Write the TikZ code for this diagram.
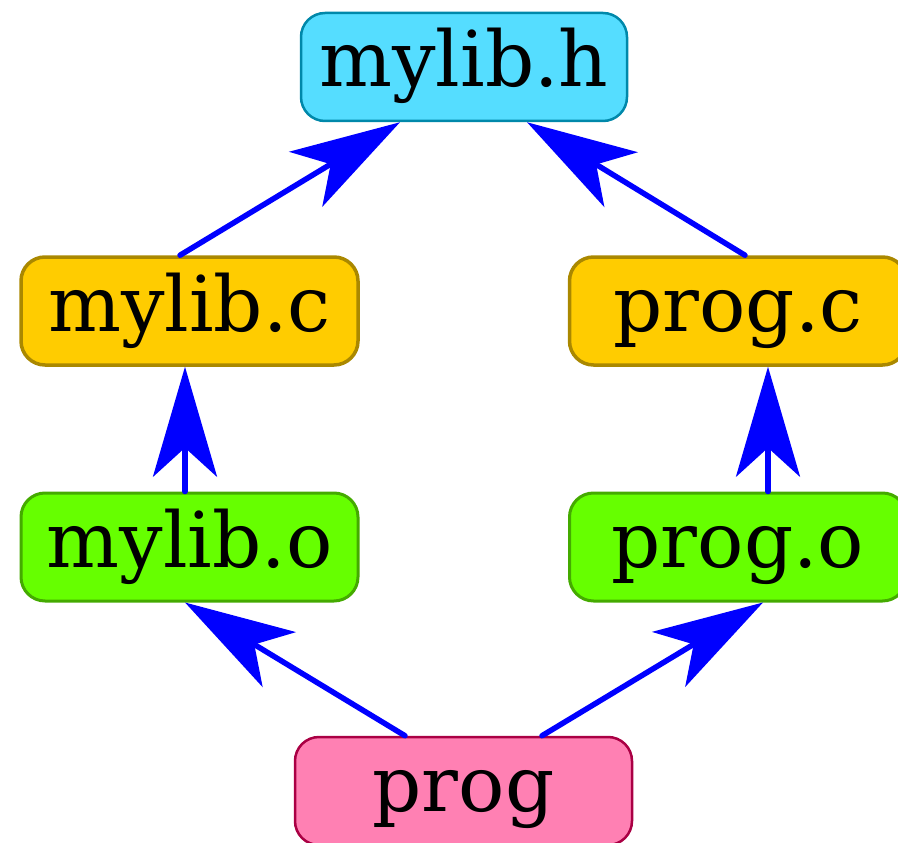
\documentclass[tikz,border=0pt]{standalone}
\usepackage{fontspec}
\setmainfont{DejaVu Serif}
\usetikzlibrary{arrows.meta,calc}

\definecolor{hfill}{HTML}{55DDFF}
\definecolor{hdraw}{HTML}{0088AA}
\definecolor{cfill}{HTML}{FFCC00}
\definecolor{cdraw}{HTML}{AA8800}
\definecolor{ofill}{HTML}{66FF00}
\definecolor{odraw}{HTML}{44AA00}
\definecolor{pfill}{HTML}{FF80B3}
\definecolor{pdraw}{HTML}{AA0044}

\tikzset{
  filebox/.style={rounded corners=24pt, minimum height=108pt, inner sep=0pt,
    font=\fontsize{77}{77}\selectfont, text height=57pt, text depth=17pt},
  header/.style={filebox, fill=hfill, draw=hdraw, line width=2.5pt, minimum width=326pt},
  source/.style={filebox, fill=cfill, draw=cdraw, line width=3.5pt, minimum width=337pt},
  object/.style={filebox, fill=ofill, draw=odraw, line width=3pt, minimum width=337pt},
  binary/.style={filebox, fill=pfill, draw=pdraw, line width=2.5pt, minimum width=337pt},
  dep/.style={draw=blue, line width=5.5pt, line cap=round,
    -{Stealth[length=110pt, width=64pt, inset=29pt]}}
}

\begin{document}
\begin{tikzpicture}[x=1pt, y=-1pt]
  \useasboundingbox (0,0) rectangle (898,843);

  \node[header] (mylibh) at (464,67)   {mylib.h};
  \node[source] (mylibc) at (189.5,311) {mylib.c};
  \node[source] (progc)  at (738,311)   {prog.c};
  \node[object] (mylibo) at (189.5,547) {mylib.o};
  \node[object] (progo)  at (738,547)   {prog.o};
  \node[binary] (prog)   at (463.5,791) {prog};

  \draw[dep] ($(mylibc.north)+(-9.5,0)$) -- ($(mylibh.south)+(-64,0)$);
  \draw[dep] ($(progc.north)+(7,0)$)     -- ($(mylibh.south)+(63,0)$);
  \draw[dep] ($(mylibo.north)+(-4.5,0)$) -- ($(mylibc.south)+(-4.5,0)$);
  \draw[dep] ($(progo.north)+(30,0)$)    -- ($(progc.south)+(30,0)$);
  \draw[dep] ($(prog.north)+(-58.5,0)$)  -- ($(mylibo.south)+(-4.5,0)$);
  \draw[dep] ($(prog.north)+(78.5,0)$)   -- ($(progo.south)+(25,0)$);
\end{tikzpicture}
\end{document}
